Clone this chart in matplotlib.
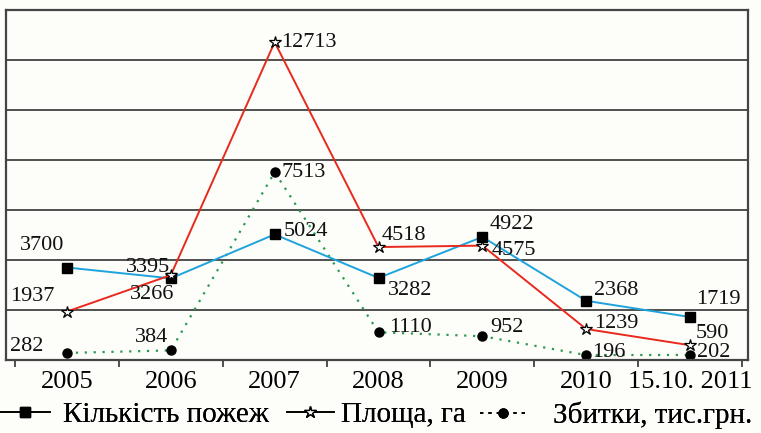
import matplotlib.pyplot as plt
from matplotlib.lines import Line2D

plt.rcParams['font.family'] = ['Liberation Serif', 'DejaVu Serif']

# data
years = ["2005", "2006", "2007", "2008", "2009", "2010", "15.10. 2011"]
fires = [3700, 3266, 5024, 3282, 4922, 2368, 1719]
area = [1937, 3395, 12713, 4518, 4575, 1239, 590]
losses = [282, 384, 7513, 1110, 952, 196, 202]

# label offsets (pixels) for each point
fires_off = [(-25, 22), (-19, -16), (31, 3), (32, -13), (30, 12), (30, 10), (28, 18)]
area_off = [(-35, 15), (-23, 8), (34, 0), (25, 12), (32, -5), (30, 6), (22, 12)]
loss_off = [(-40, 6), (-19, 13), (29, 0), (32, 5), (25, 9), (23, 3), (24, 2)]

fig = plt.figure(figsize=(7.61, 4.33), dpi=100, facecolor='#fdfdfa')
ax = fig.add_axes([6 / 761, 73 / 433, 742 / 761, 350 / 433])
ax.set_facecolor('#fdfdfa')

x = list(range(len(years)))
ax.plot(x, fires, color='#1ea3dc', lw=1.4, marker='s', ms=6.5, mfc='black', mec='black', zorder=3)
ax.plot(x, area, color='#e8291e', lw=1.4, marker='*', ms=9, mfc='white', mec='black', mew=0.9, zorder=4)
ax.plot(x, losses, color='#2a9a50', lw=1.6, ls=(0, (1, 3)), marker='o', ms=6.5, mfc='black', mec='black', zorder=2)

for vals, offs in [(fires, fires_off), (area, area_off), (losses, loss_off)]:
    for i, (v, o) in enumerate(zip(vals, offs)):
        ax.annotate(str(v), (i, v), xytext=o, textcoords='offset pixels',
                    ha='center', va='center', fontsize=16, color='#111111', zorder=5)

ax.set_ylim(0, 14000)
ax.set_yticks(range(0, 14001, 2000))
ax.set_yticklabels([])
ax.tick_params(axis='y', length=0)
ax.grid(axis='y', color='#333333', lw=1.2)
ax.set_axisbelow(True)

ax.set_xlim(-0.587, 6.558)
ax.set_xticks([i - 0.5 for i in range(len(years) + 1)], minor=False)
ax.set_xticklabels([])
ax.set_xticks(x, minor=True)
ax.set_xticklabels(years, minor=True, fontsize=19)
ax.tick_params(axis='x', which='major', length=5, width=1.2, color='#333333')
ax.tick_params(axis='x', which='minor', length=0, pad=8)

for s in ax.spines.values():
    s.set_color('#444444')
    s.set_linewidth(1.6)

# legend: three separate entries placed along the bottom
entries = [
    (Line2D([], [], color='black', lw=1.2, marker='s', ms=6.5), "Кількість пожеж", 0 / 761, 1.7, 0.45),
    (Line2D([], [], color='black', lw=1.2, marker='*', ms=9, mfc='white', mec='black'), "Площа, га", 287 / 761, 1.6, 0.25),
    (Line2D([], [], color='black', lw=1.2, ls=(0, (2, 3)), marker='o', ms=6.5), "Збитки, тис.грн.", 480 / 761, 1.6, 0.9),
]
for h, label, xpos, hl, tp in entries:
    leg = fig.legend([h], [label], loc='center left', bbox_to_anchor=(xpos, 18 / 433),
                     frameon=False, fontsize=21, handlelength=hl, handletextpad=tp,
                     borderpad=0, borderaxespad=0)
    fig.add_artist(leg)

plt.savefig('out.png', dpi=100, facecolor=fig.get_facecolor())
plt.close('all')
